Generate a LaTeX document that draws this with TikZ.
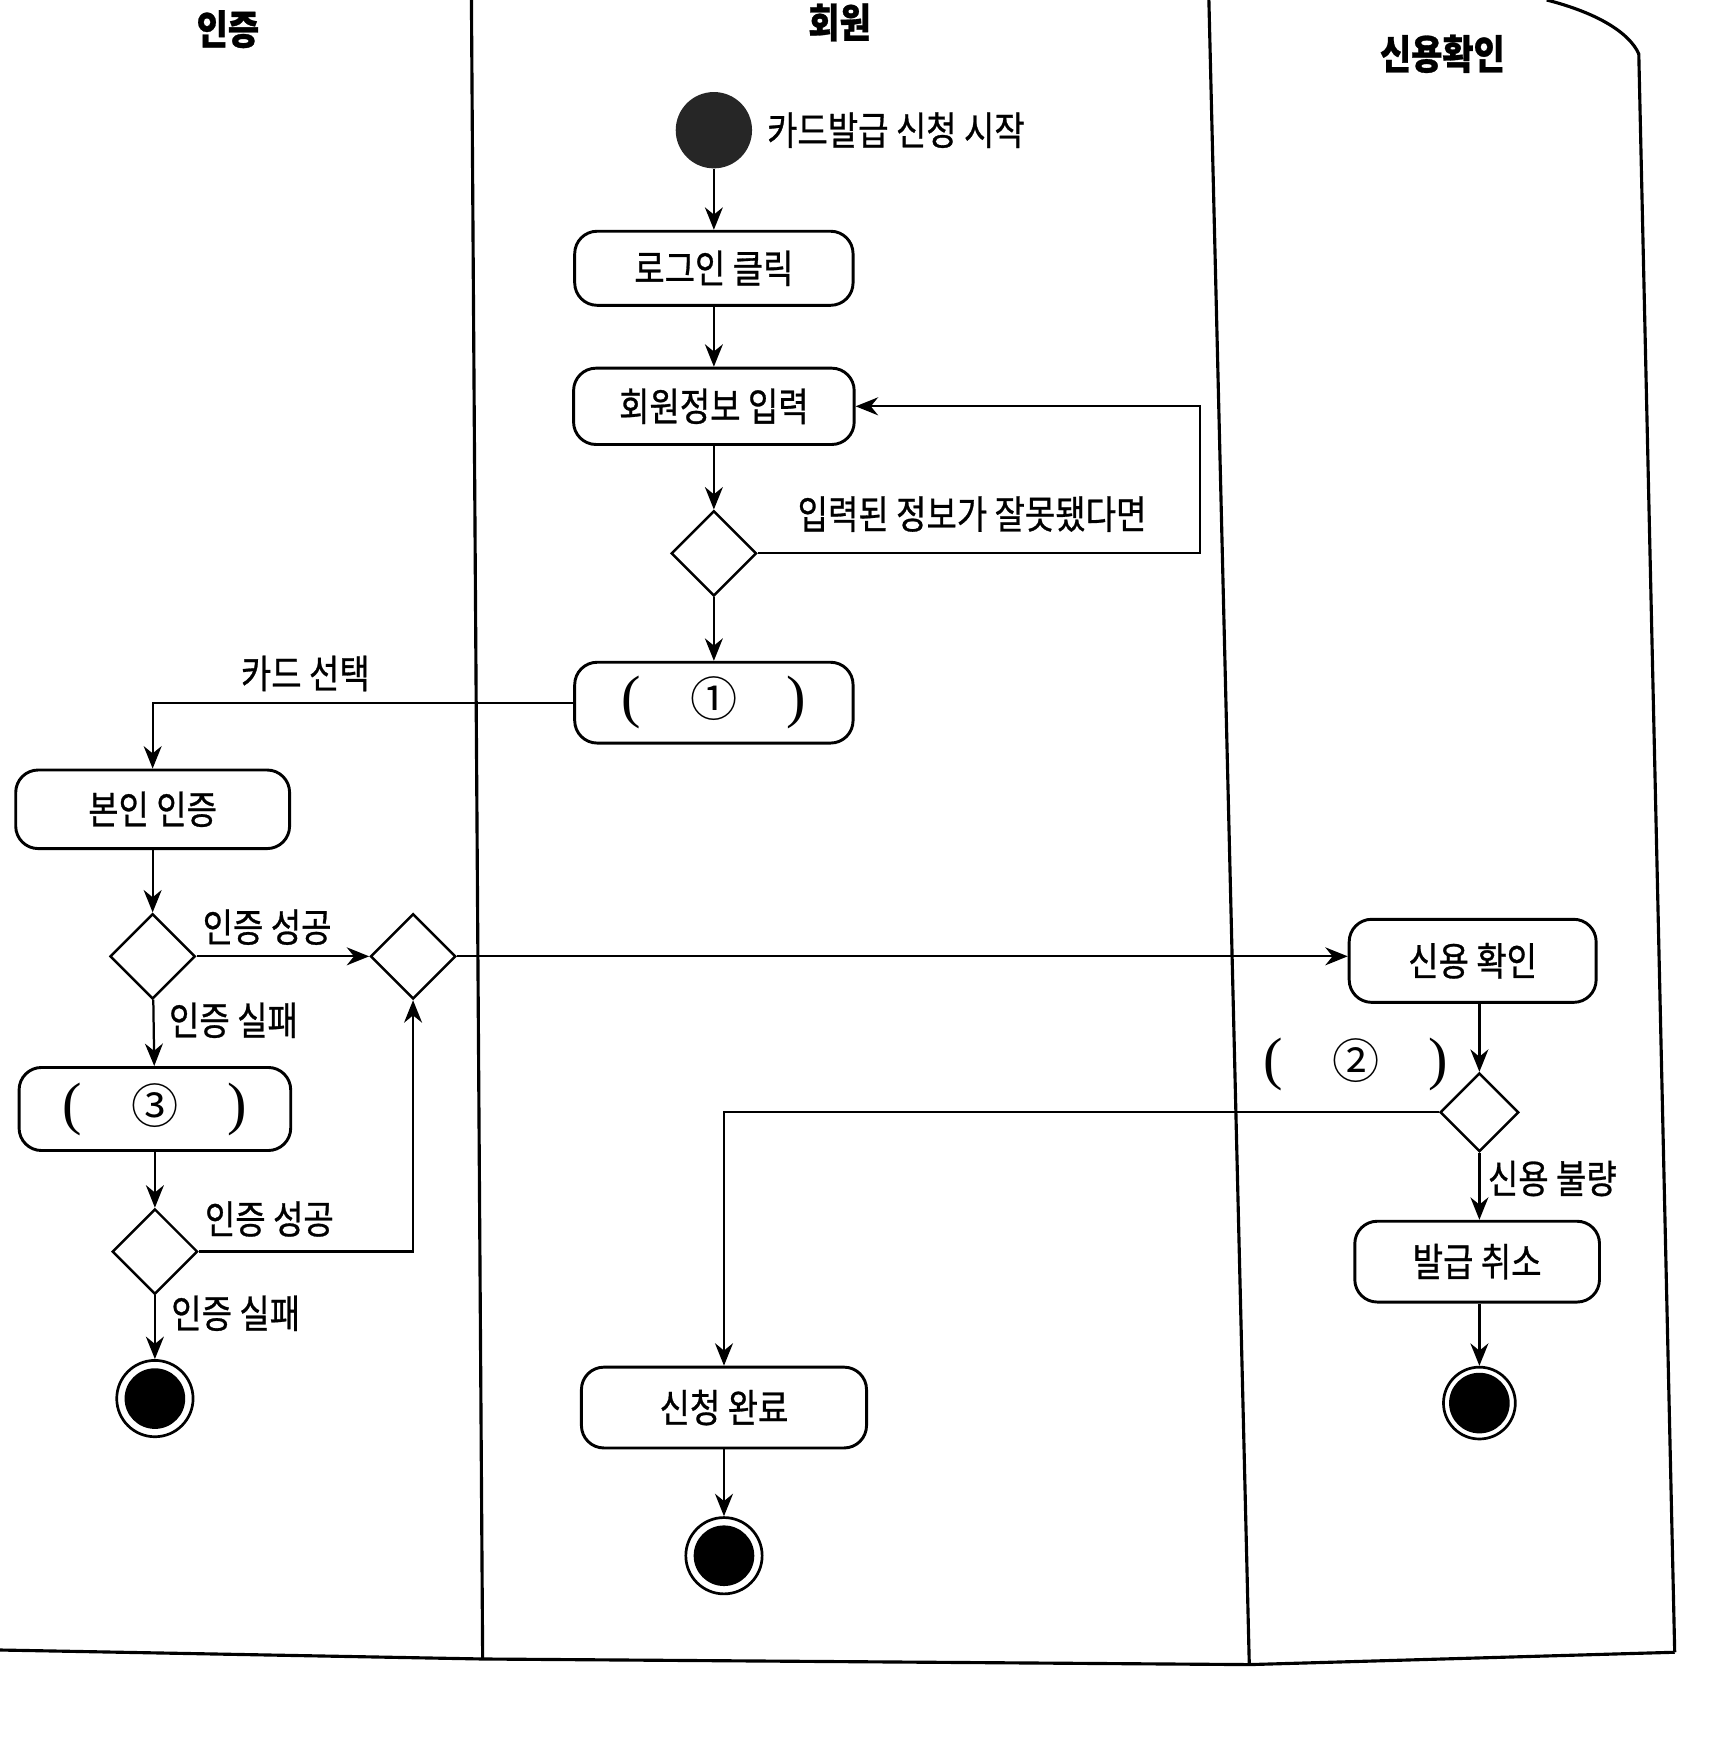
\documentclass[tikz,border=0pt]{standalone}
\usepackage{fontspec}
\setmainfont[FakeStretch=0.84,FakeBold=0.7]{Noto Sans CJK KR}
\newfontfamily\circfont{Noto Sans CJK KR}
\newfontfamily\parfont{Liberation Serif}
\usetikzlibrary{shapes.geometric,arrows.meta}
\tikzset{
  act/.style={draw, rounded corners=10pt, line width=1.3pt, font=\fontsize{17.5}{20}\selectfont, inner sep=0pt},
  dec/.style={draw, diamond, line width=1.1pt, minimum size=38pt, inner sep=0pt, aspect=1},
  conn/.style={line width=1pt, -{Stealth[length=10pt,width=8pt]}},
  lane/.style={line width=1.4pt},
  lbl/.style={font=\fontsize{17.5}{20}\selectfont, inner sep=0pt},
  title/.style={font=\fontsize{18}{20}\selectfont\bfseries, inner sep=0pt},
  startnode/.style={circle, fill=black!85, minimum size=34pt, inner sep=0pt},
  endnode/.style={circle, draw, line width=1.2pt, fill=white, minimum size=34pt, inner sep=0pt,
    path picture={\fill[black] (path picture bounding box.center) circle (13.5pt);}},
  blank/.style={font=\fontsize{20}{24}\selectfont, inner sep=0pt},
}
\newcommand{\blankno}[1]{{\parfont\fontsize{26}{28}\selectfont(}\hspace{22pt}{\circfont\fontsize{21}{24}\selectfont #1}\hspace{22pt}{\parfont\fontsize{26}{28}\selectfont)}}
\begin{document}
\begin{tikzpicture}[x=0.5pt,y=-0.5pt]
\fill[white] (0,0) rectangle (1539,1568);
\useasboundingbox (0,0) rectangle (1539,1568);

% swimlanes
\draw[lane] (420,0) -- (430,1478);
\draw[lane] (1077,0) -- (1113,1483);
\draw[lane] (1378,0) .. controls (1425,12) and (1452,30) .. (1460,48) -- (1492,1472);
\draw[lane] (0,1470) -- (430,1478) -- (1113,1483) -- (1492,1472);

\node[title] (t1) at (203,26) {인증};
\node[title] (t2) at (748,20) {회원};
\node[title] (t3) at (1285,48) {신용확인};

% member lane
\node[startnode] (s) at (636,116) {};
\node[lbl, anchor=west] (sl) at (683,116) {카드발급 신청 시작};
\node[act, minimum width=124pt, minimum height=33pt] (b1) at (636,239) {로그인 클릭};
\node[act, minimum width=125pt, minimum height=34pt] (b2) at (636,362) {회원정보 입력};
\node[dec] (d1) at (636,493) {};
\coordinate (lp) at (1069,493);
\node[lbl] (l1) at (866,458) {입력된 정보가 잘못됐다면};
\node[act, minimum width=124pt, minimum height=36pt] (b3) at (636,626) {\blankno{①}};

% auth lane
\node[lbl] (l2) at (272,600) {카드 선택};
\node[act, minimum width=122pt, minimum height=35pt] (b4) at (136,721) {본인 인증};
\node[dec] (d2) at (136,852) {};
\node[dec] (d3) at (368,852) {};
\node[lbl] (l3) at (238,826) {인증 성공};
\node[lbl] (l4) at (208,909) {인증 실패};
\node[act, minimum width=121pt, minimum height=37pt] (b5) at (138,988) {\blankno{③}};
\node[dec] (d4) at (138,1115) {};
\node[lbl] (l5) at (240,1086) {인증 성공};
\node[lbl] (l6) at (210,1170) {인증 실패};
\node[endnode] (f1) at (138,1246) {};

% credit lane
\node[act, minimum width=110pt, minimum height=37pt] (c1) at (1312,856) {신용 확인};
\node[blank] (l7) at (1208,948) {\blankno{②}};
\node[dec, minimum size=35pt] (d5) at (1318,991) {};
\node[lbl] (l8) at (1383,1050) {신용 불량};
\node[act, minimum width=109pt, minimum height=36pt] (c2) at (1316,1124) {발급 취소};
\node[endnode, minimum size=32pt] (f3) at (1318,1250) {};

% completion
\node[act, minimum width=127pt, minimum height=36pt] (b9) at (645,1254) {신청 완료};
\node[endnode] (f2) at (645,1386) {};

% connectors
\draw[conn] (s) -- (b1);
\draw[conn] (b1) -- (b2);
\draw[conn] (b2) -- (d1);
\draw[conn] (d1.east) -- (lp) |- (b2.east);
\draw[conn] (d1) -- (b3);
\draw[conn] (b3.west) -| (b4.north);
\draw[conn] (b4) -- (d2);
\draw[conn] (d2.east) -- (d3.west);
\draw[conn] (d2) -- (b5);
\draw[conn] (b5) -- (d4);
\draw[conn] (d4.east) -| (d3.south);
\draw[conn] (d4) -- (f1);
\draw[conn] (d3.east) -- (d3.east -| c1.west);
\draw[conn] (c1.south -| d5.north) -- (d5.north);
\draw[conn] (d5.west) -| (b9.north);
\draw[conn] (d5.south) -- (d5.south |- c2.north);
\draw[conn] (c2.south -| f3.north) -- (f3.north);
\draw[conn] (b9) -- (f2);
\end{tikzpicture}
\end{document}
